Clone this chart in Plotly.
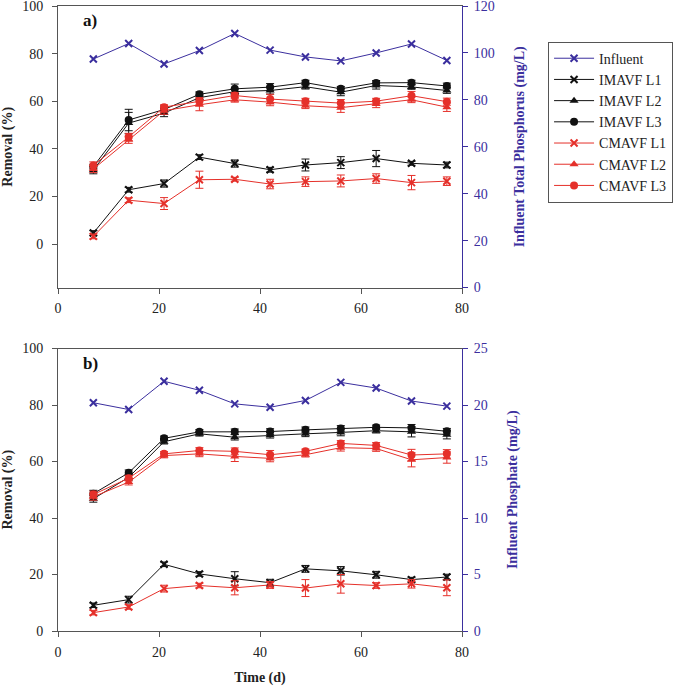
import plotly.graph_objects as go

# sampling days
days = [7, 14, 21, 28, 35, 42, 49, 56, 63, 70, 77]

# ---- panel a) total phosphorus ----
tp_influent = [97.4, 104.0, 95.3, 101.0, 108.3, 101.2, 98.3, 96.6, 100.0, 103.8, 96.8]
tp_im_l1 = [4.6, 22.8, 25.4, 36.5, 33.8, 31.2, 33.2, 34.2, 35.9, 33.9, 33.2]
tp_im_l2 = [31.0, 50.8, 55.0, 61.5, 64.0, 64.5, 66.1, 63.8, 66.6, 66.0, 64.5]
tp_im_l3 = [32.5, 52.1, 56.5, 62.9, 65.2, 65.9, 67.8, 65.2, 67.7, 67.8, 66.4]
tp_cm_l1 = [3.2, 18.4, 17.0, 27.0, 27.2, 25.2, 26.2, 26.5, 27.5, 25.8, 26.4]
tp_cm_l2 = [31.5, 43.8, 56.0, 58.5, 60.6, 59.6, 58.1, 57.3, 58.8, 60.6, 57.5]
tp_cm_l3 = [33.0, 45.0, 57.5, 60.0, 62.4, 60.9, 60.0, 59.2, 60.0, 62.3, 59.8]

tp_im_l1_err = [1.0, 1.0, 1.5, 1.0, 1.5, 1.0, 2.5, 2.5, 3.4, 0.8, 1.2]
tp_im_l2_err = [1.5, 4.5, 1.5, 1.0, 1.2, 1.5, 1.0, 1.5, 1.5, 1.0, 1.2]
tp_im_l3_err = [1.0, 4.5, 1.5, 1.0, 2.0, 1.5, 1.0, 1.0, 1.0, 1.0, 1.2]
tp_cm_l1_err = [1.0, 1.0, 2.5, 3.6, 0.8, 2.0, 2.0, 2.5, 2.0, 3.0, 1.8]
tp_cm_l2_err = [1.5, 1.5, 1.5, 2.5, 1.0, 1.5, 1.2, 2.0, 1.5, 1.2, 1.8]
tp_cm_l3_err = [1.5, 1.5, 1.0, 1.5, 1.2, 2.0, 1.2, 1.5, 1.2, 1.8, 1.5]

# ---- panel b) phosphate ----
po_influent = [20.2, 19.6, 22.1, 21.3, 20.1, 19.8, 20.4, 22.0, 21.5, 20.35, 19.9]
po_im_l1 = [9.1, 11.1, 23.6, 20.2, 18.5, 17.1, 22.0, 21.3, 19.9, 18.2, 19.1]
po_im_l2 = [46.8, 54.4, 67.0, 69.8, 68.6, 69.3, 69.8, 70.3, 70.9, 70.5, 69.5]
po_im_l3 = [48.6, 56.0, 68.2, 70.5, 70.5, 70.6, 71.2, 71.7, 72.1, 71.9, 70.7]
po_cm_l1 = [6.5, 8.5, 15.0, 16.1, 15.3, 16.3, 15.2, 16.7, 16.1, 16.7, 15.3]
po_cm_l2 = [47.5, 52.7, 62.1, 62.7, 61.8, 61.1, 62.4, 64.9, 64.6, 60.6, 61.4]
po_cm_l3 = [48.3, 54.1, 62.7, 63.9, 63.6, 62.4, 63.6, 66.4, 65.7, 62.3, 62.7]

po_im_l1_err = [0.8, 1.2, 0.8, 0.8, 2.5, 1.2, 1.2, 1.5, 1.2, 0.8, 1.0]
po_im_l2_err = [1.2, 1.0, 0.8, 0.8, 1.0, 1.0, 1.0, 1.2, 0.8, 1.8, 1.5]
po_im_l3_err = [1.2, 1.0, 0.8, 0.8, 1.0, 1.0, 1.0, 1.0, 0.8, 1.2, 1.0]
po_cm_l1_err = [0.8, 0.8, 1.2, 0.8, 2.5, 1.2, 3.0, 3.3, 1.0, 1.5, 2.8]
po_cm_l2_err = [1.2, 1.0, 0.8, 1.0, 1.8, 1.2, 0.8, 1.2, 1.0, 2.5, 2.0]
po_cm_l3_err = [1.2, 1.0, 0.8, 1.0, 1.2, 1.5, 0.8, 1.0, 1.0, 2.0, 1.5]

x_ticks = [0, 20, 40, 60, 80]

BLUE = "#3b2f9e"
RED = "#e5302a"
BLACK = "#111111"
AXIS_GREY = "#555555"
FONT = "Liberation Serif"


def series(x, y, err, name, color, symbol, xaxis, yaxis, show_legend):
    is_x = symbol.startswith("x")
    marker = dict(symbol=symbol, size=7 if is_x else 8, color=color)
    if is_x:
        marker["line"] = dict(color=color, width=2)
    tr = go.Scatter(
        x=x,
        y=y,
        name=name,
        mode="lines+markers",
        line=dict(color=color, width=1),
        marker=marker,
        xaxis=xaxis,
        yaxis=yaxis,
        showlegend=show_legend,
    )
    if err is not None:
        tr.error_y = dict(type="data", array=err, visible=True, color=color, thickness=1, width=4)
    return tr


fig = go.Figure()

panels = [
    ("x", "y", "y2", tp_influent,
     [tp_im_l1, tp_im_l2, tp_im_l3, tp_cm_l1, tp_cm_l2, tp_cm_l3],
     [tp_im_l1_err, tp_im_l2_err, tp_im_l3_err, tp_cm_l1_err, tp_cm_l2_err, tp_cm_l3_err], True),
    ("x2", "y3", "y4", po_influent,
     [po_im_l1, po_im_l2, po_im_l3, po_cm_l1, po_cm_l2, po_cm_l3],
     [po_im_l1_err, po_im_l2_err, po_im_l3_err, po_cm_l1_err, po_cm_l2_err, po_cm_l3_err], False),
]
names = ["IMAVF L1", "IMAVF L2", "IMAVF L3", "CMAVF L1", "CMAVF L2", "CMAVF L3"]
colors = [BLACK, BLACK, BLACK, RED, RED, RED]
symbols = ["x-thin", "triangle-up", "circle", "x-thin", "triangle-up", "circle"]

for xa, ya, ya_inf, influent, vals, errs, legend in panels:
    fig.add_trace(series(days, influent, None, "Influent", BLUE, "x-thin", xa, ya_inf, legend))
    for name, color, sym, v, e in zip(names, colors, symbols, vals, errs):
        fig.add_trace(series(days, v, e, name, color, sym, xa, ya, legend))

tick_font = dict(family=FONT, size=14, color="#222222")
title_font = dict(family=FONT, size=14, color="#222222")
blue_tick = dict(family=FONT, size=14, color=BLUE)
blue_title = dict(family=FONT, size=14, color=BLUE)

x_common = dict(
    range=[0, 80], tickvals=x_ticks, showline=True, linecolor=AXIS_GREY, linewidth=1,
    mirror=True, ticks="outside", ticklen=5, tickcolor=AXIS_GREY, showgrid=False,
    zeroline=False, tickfont=tick_font, automargin=False, ticklabelstandoff=3,
)
y_left = dict(
    showline=True, linecolor=AXIS_GREY, linewidth=1, ticks="outside", ticklen=5,
    tickcolor=AXIS_GREY, showgrid=False, zeroline=False, tickfont=tick_font,
    automargin=False, ticklabelstandoff=6, ticklabeloverflow="allow",
    title=dict(text="<b>Removal (%)</b>", font=title_font, standoff=6),
)
y_right = dict(
    side="right", showline=True, linecolor=BLUE, linewidth=1, ticks="outside",
    ticklen=5, tickcolor=BLUE, showgrid=False, zeroline=False, tickfont=blue_tick,
    automargin=False, ticklabelstandoff=3, ticklabeloverflow="allow",
)

top_dom = [0.5495, 1.0]
bot_dom = [0.0, 0.452]

fig.update_layout(
    width=685,
    height=686,
    margin=dict(l=58, r=223, t=6, b=55, autoexpand=False),
    plot_bgcolor="white",
    paper_bgcolor="white",
    font=dict(family=FONT),
    xaxis=dict(x_common, domain=[0, 1], anchor="y"),
    yaxis=dict(y_left, domain=top_dom, anchor="x", range=[-18.3, 100], tickvals=[0, 20, 40, 60, 80, 100]),
    yaxis2=dict(y_right, overlaying="y", anchor="x", range=[0, 120], dtick=20,
                title=dict(text="<b>Influent Total Phosphorus (mg/L)</b>", font=blue_title, standoff=20)),
    xaxis2=dict(x_common, domain=[0, 1], anchor="y3",
                title=dict(text="<b>Time (d)</b>", font=title_font, standoff=15)),
    yaxis3=dict(y_left, domain=bot_dom, anchor="x2", range=[0, 100], dtick=20),
    yaxis4=dict(y_right, overlaying="y3", anchor="x2", range=[0, 25], dtick=5,
                title=dict(text="<b>Influent Phosphate (mg/L)</b>", font=blue_title, standoff=20)),
    legend=dict(
        x=1.213, y=0.943, xanchor="left", yanchor="top",
        bordercolor=AXIS_GREY, borderwidth=1, bgcolor="white",
        font=dict(family=FONT, size=14, color="#222222"),
        tracegroupgap=0, itemwidth=40,
    ),
    annotations=[
        dict(text="<b>a)</b>", x=0.058, y=0.995, xref="paper", yref="paper",
             showarrow=False, xanchor="left", yanchor="top", font=dict(family=FONT, size=17, color="#111111")),
        dict(text="<b>b)</b>", x=0.058, y=0.447, xref="paper", yref="paper",
             showarrow=False, xanchor="left", yanchor="top", font=dict(family=FONT, size=17, color="#111111")),
    ],
)

# the page body has a default 8px margin; drop it so the figure sits at the corner
fig.write_html(
    "out.html",
    config={"displayModeBar": False},
    post_script="document.body.style.margin='0px';",
)
